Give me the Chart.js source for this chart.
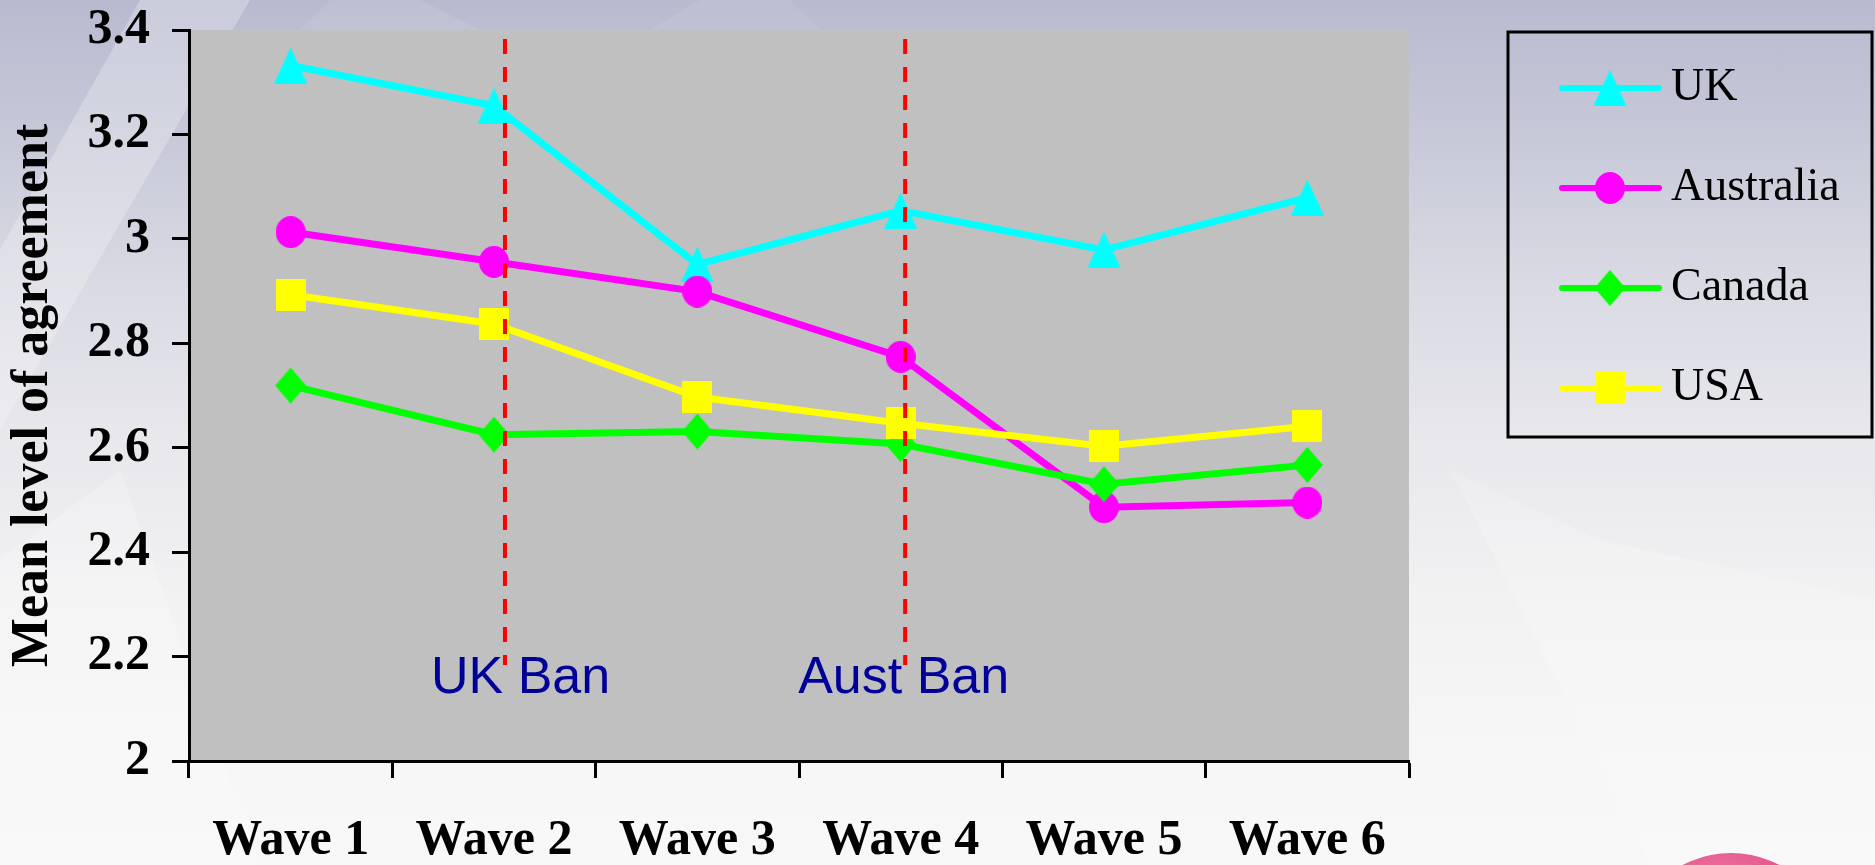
<!DOCTYPE html>
<html>
<head>
<meta charset="utf-8">
<title>Mean level of agreement by wave</title>
<script src="https://cdn.jsdelivr.net/npm/chart.js@4/dist/chart.umd.min.js"></script>
<style>
  html, body { margin: 0; padding: 0; }
  body {
    width: 1875px; height: 865px; overflow: hidden; position: relative;
    background: linear-gradient(to bottom, #b8bbcf 0%, #c6c8d8 15%, #d8d9e2 32%, #e7e7ec 50%, #f1f1f2 68%, #f6f6f6 85%, #f8f8f8 100%);
  }
  #deco, #chart { position: absolute; left: 0; top: 0; }
</style>
</head>
<body>
<svg id="deco" width="1875" height="865" xmlns="http://www.w3.org/2000/svg">
  <defs>
    <radialGradient id="ball" cx="0.45" cy="0.3" r="0.7">
      <stop offset="0" stop-color="#f58ab4"/>
      <stop offset="0.6" stop-color="#e2508a"/>
      <stop offset="1" stop-color="#c93573"/>
    </radialGradient>
  </defs>
  <!-- soft background panels -->
  <polygon points="0,430 0,250 140,0 250,0" fill="#ffffff" opacity="0.25"/>
  <polygon points="0,865 0,560 120,470 260,865" fill="#ffffff" opacity="0.22"/>
  <polygon points="330,0 420,0 480,30 300,30" fill="#ffffff" opacity="0.08"/>
  <polygon points="700,0 790,0 820,30 650,30" fill="#ffffff" opacity="0.07"/>
  <polygon points="1450,470 1600,540 1875,600 1875,865 1650,865" fill="#ffffff" opacity="0.18"/>
  <circle cx="1731" cy="957" r="104" fill="url(#ball)"/>
</svg>
<canvas id="chart" width="1875" height="865"></canvas>
<script>
// Survey waves and mean agreement per country
const waves = ['Wave 1', 'Wave 2', 'Wave 3', 'Wave 4', 'Wave 5', 'Wave 6'];
const ukValues        = [3.332, 3.255, 2.951, 3.054, 2.979, 3.079];
const australiaValues = [3.013, 2.956, 2.899, 2.774, 2.486, 2.495];
const canadaValues    = [2.719, 2.625, 2.631, 2.607, 2.530, 2.567];
const usaValues       = [2.893, 2.837, 2.697, 2.647, 2.603, 2.641];
const yTickValues = [2, 2.2, 2.4, 2.6, 2.8, 3, 3.2, 3.4];

// When each ban came in, measured in waves (0 = Wave 1)
const banNames = ['UK Ban', 'Aust Ban'];
const banAt = [1.054, 3.022];

// Marker images (slightly taller than wide)
function makeMarker(shape, color, w, h) {
  const c = document.createElement('canvas');
  c.width = w; c.height = h;
  const g = c.getContext('2d');
  g.fillStyle = color;
  g.beginPath();
  if (shape === 'triangle') {
    g.moveTo(w / 2, 0); g.lineTo(w, h); g.lineTo(0, h);
  } else if (shape === 'circle') {
    g.ellipse(w / 2, h / 2, w / 2, h / 2, 0, 0, Math.PI * 2);
  } else if (shape === 'diamond') {
    g.moveTo(w / 2, 0); g.lineTo(w, h / 2); g.lineTo(w / 2, h); g.lineTo(0, h / 2);
  } else {
    g.rect(0, 0, w, h);
  }
  g.closePath();
  g.fill();
  return c;
}

const serif = '"Liberation Serif", "Times New Roman", serif';

function series(label, data, color, marker, order) {
  return {
    label, data, order,
    borderColor: color,
    backgroundColor: color,
    borderWidth: 7,
    tension: 0,
    fill: false,
    pointStyle: marker,
    pointRadius: 16,
    pointHoverRadius: 16
  };
}

const plotBackground = {
  id: 'plotBackground',
  beforeDraw(chart, args, o) {
    const { ctx, chartArea: a } = chart;
    ctx.save();
    ctx.fillStyle = o.color;
    ctx.fillRect(a.left, a.top, a.right - a.left, a.bottom - a.top);
    ctx.restore();
  }
};

const banMarkers = {
  id: 'banMarkers',
  afterDatasetsDraw(chart, args, o) {
    const { ctx, scales: { x, y } } = chart;
    ctx.save();
    banAt.forEach((pos, i) => {
      const px = x.getPixelForValue(pos);
      ctx.strokeStyle = o.lineColor;
      ctx.lineWidth = o.lineWidth;
      ctx.setLineDash(o.dash);
      ctx.beginPath();
      ctx.moveTo(px, y.getPixelForValue(o.lineFrom));
      ctx.lineTo(px, y.getPixelForValue(o.lineTo));
      ctx.stroke();
      ctx.setLineDash([]);
      ctx.fillStyle = o.textColor;
      ctx.font = o.font;
      ctx.textAlign = 'left';
      ctx.textBaseline = 'alphabetic';
      ctx.fillText(banNames[i], px + o.labelDx[i], y.getPixelForValue(o.labelAt));
    });
    ctx.restore();
  }
};

const boxLegend = {
  id: 'boxLegend',
  afterDraw(chart, args, o) {
    const ctx = chart.ctx;
    ctx.save();
    ctx.strokeStyle = '#000';
    ctx.lineWidth = o.borderWidth;
    ctx.strokeRect(o.left, o.top, o.width, o.height);
    chart.data.datasets.forEach((ds, i) => {
      const cy = o.firstRow + i * o.rowGap;
      ctx.strokeStyle = ds.borderColor;
      ctx.lineWidth = o.lineWidth;
      ctx.lineCap = 'round';
      ctx.beginPath();
      ctx.moveTo(o.lineFrom, cy);
      ctx.lineTo(o.lineTo, cy);
      ctx.stroke();
      const img = ds.pointStyle;
      ctx.drawImage(img, o.markerX - img.width / 2, cy - img.height / 2);
      ctx.fillStyle = '#000';
      ctx.font = o.font;
      ctx.textAlign = 'left';
      ctx.textBaseline = 'middle';
      ctx.fillText(ds.label, o.textX, cy);
    });
    ctx.restore();
  }
};

new Chart(document.getElementById('chart'), {
  type: 'line',
  data: {
    labels: waves,
    datasets: [
      series('UK', ukValues, '#00ffff', makeMarker('triangle', '#00ffff', 33, 36), 3),
      series('Australia', australiaValues, '#ff00ff', makeMarker('circle', '#ff00ff', 30, 32), 2),
      series('Canada', canadaValues, '#00ff00', makeMarker('diamond', '#00ff00', 31, 36), 1),
      series('USA', usaValues, '#ffff00', makeMarker('square', '#ffff00', 30, 32), 0)
    ]
  },
  options: {
    responsive: false,
    animation: false,
    events: [],
    layout: { padding: { top: 30, right: 466, left: 0, bottom: 0 } },
    plugins: {
      legend: { display: false },
      tooltip: { enabled: false },
      plotBackground: { color: '#c0c0c0' },
      banMarkers: {
        lineColor: '#ff0000', lineWidth: 4, dash: [15, 13],
        lineFrom: 3.383, lineTo: 2.184,
        textColor: '#000099', font: '52px "Liberation Sans", Arial, sans-serif',
        labelDx: [-74, -107], labelAt: 2.13
      },
      boxLegend: {
        left: 1508, top: 32, width: 364, height: 405, borderWidth: 3,
        firstRow: 88, rowGap: 100, lineWidth: 6,
        lineFrom: 1562, lineTo: 1659, markerX: 1610, textX: 1671,
        font: '46px ' + serif
      }
    },
    scales: {
      x: {
        type: 'category',
        offset: true,
        grid: { offset: true, drawOnChartArea: false, drawTicks: true, tickLength: 17, tickWidth: 3, color: '#000' },
        border: { display: true, color: '#000', width: 3 },
        ticks: { color: '#000', padding: 33, maxRotation: 0, autoSkip: false,
                 font: { family: serif, weight: 'bold', size: 50 } },
        afterFit(scale) { scale.height = 104; scale.paddingLeft = 0; scale.paddingRight = 0; }
      },
      y: {
        min: 2, max: 3.4,
        afterBuildTicks(scale) { scale.ticks = yTickValues.map(v => ({ value: v })); },
        grid: { drawOnChartArea: false, drawTicks: true, tickLength: 17, tickWidth: 3, color: '#000' },
        border: { display: true, color: '#000', width: 3 },
        ticks: { color: '#000', padding: 22, callback: v => String(v),
                 font: { family: serif, weight: 'bold', size: 50 } },
        title: { display: true, text: 'Mean level of agreement', color: '#000',
                 font: { family: serif, weight: 'bold', size: 52 }, padding: { top: 2, bottom: 0 } },
        afterFit(scale) { scale.width = 189; scale.paddingTop = 0; scale.paddingBottom = 0; }
      }
    }
  },
  plugins: [plotBackground, banMarkers, boxLegend]
});
</script>
</body>
</html>
